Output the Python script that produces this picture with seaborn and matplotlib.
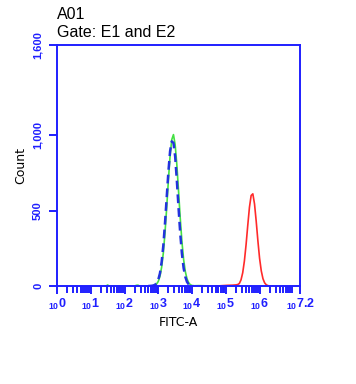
import seaborn as sns
import matplotlib.pyplot as plt
import numpy as np
import pandas as pd
from matplotlib.ticker import FixedLocator, LogLocator, NullFormatter

sns.set_style("ticks")
plt.rcParams['font.family'] = ['Liberation Sans', 'DejaVu Sans']
plt.rcParams['text.color'] = 'black'
plt.rcParams['axes.labelcolor'] = 'black'

# histogram traces, x = decade (log10 of FITC-A), y = count
green_dec = [1.40, 1.45, 1.50, 1.55, 1.60, 2.30, 2.35, 2.40, 2.45, 2.70, 2.75, 2.80, 2.85,
             2.90, 2.95, 3.00, 3.05, 3.10, 3.15, 3.20, 3.25, 3.30, 3.35, 3.40, 3.45, 3.50,
             3.55, 3.60, 3.65, 3.70, 3.75, 3.80, 3.85, 3.90, 3.95, 4.00, 4.05, 4.20, 4.35, 4.50]
green_cnt = [0, 0, 7, 0, 0, 0, 5, 6, 0, 0, 1, 1, 2,
             5, 14, 31, 65, 126, 220, 357, 522, 703, 865, 972, 1005, 937,
             805, 631, 452, 296, 177, 97, 49, 22, 9, 4, 2, 3, 2, 0]

blue_dec = [2.70, 2.75, 2.80, 2.85, 2.90, 2.95, 3.00, 3.05, 3.10, 3.15, 3.20, 3.25, 3.30,
            3.35, 3.40, 3.45, 3.50, 3.55, 3.60, 3.65, 3.70, 3.75, 3.80, 3.85, 3.90, 3.95,
            4.00, 4.05]
blue_cnt = [0, 1, 2, 4, 8, 19, 42, 85, 160, 270, 420, 590, 760,
            895, 960, 950, 860, 700, 520, 350, 215, 120, 62, 28, 12, 5,
            2, 0]

red_dec = [4.70, 4.90, 5.05, 5.20, 5.30, 5.35, 5.40, 5.45, 5.50, 5.55, 5.60, 5.65, 5.70,
           5.75, 5.80, 5.85, 5.90, 5.95, 6.00, 6.05, 6.10, 6.15, 6.20, 6.25, 6.30, 6.40]
red_cnt = [0, 3, 5, 6, 8, 10, 17, 41, 88, 166, 275, 403, 523,
           601, 612, 545, 430, 300, 184, 101, 49, 21, 8, 3, 0, 0]

y_ticks = [0, 500, 1000, 1600]
y_labels = ["0", "500", "1,000", "1,600"]
x_dec_ticks = [0, 1, 2, 3, 4, 5, 6, 7.2]
x_dec_labels = ["0", "1", "2", "3", "4", "5", "6", "7.2"]

AX_BLUE = "#1f1fff"

fig = plt.figure(figsize=(3.56, 3.84), dpi=100)
ax = fig.add_axes([0.160, 0.255, 0.683, 0.628])

green = pd.DataFrame({"x": 10 ** np.array(green_dec), "y": green_cnt})
blue = pd.DataFrame({"x": 10 ** np.array(blue_dec), "y": blue_cnt})
red = pd.DataFrame({"x": 10 ** np.array(red_dec), "y": red_cnt})

sns.lineplot(data=green, x="x", y="y", color="#44e044", linewidth=1.2, ax=ax)
sns.lineplot(data=blue, x="x", y="y", color="#2233dd", linewidth=1.8,
             linestyle=(0, (3.5, 2)), ax=ax)
sns.lineplot(data=red, x="x", y="y", color="#ff2a2a", linewidth=1.2, ax=ax)

ax.set_xscale("log")
ax.set_xlim(1, 10 ** 7.2)
ax.set_ylim(0, 1600)

ax.xaxis.set_major_locator(FixedLocator([10 ** d for d in x_dec_ticks]))
ax.set_xticklabels([r"$_{\mathregular{10}}$" + s for s in x_dec_labels],
                   fontsize=9, fontweight="bold", color=AX_BLUE)
ax.xaxis.set_minor_locator(LogLocator(base=10, subs=np.arange(2, 10), numticks=20))
ax.xaxis.set_minor_formatter(NullFormatter())

ax.set_yticks(y_ticks)
ax.set_yticklabels(y_labels, rotation=90, va="center", fontsize=8, fontweight="bold",
                   color=AX_BLUE)

for s in ax.spines.values():
    s.set_color(AX_BLUE)
    s.set_linewidth(1.4)
ax.tick_params(axis="both", which="major", color=AX_BLUE, length=6, width=1.4, pad=2)
ax.tick_params(axis="y", which="major", pad=4)
ax.tick_params(axis="x", which="minor", color=AX_BLUE, length=5, width=1.4)

ax.set_xlabel("FITC-A", fontsize=9, family="DejaVu Sans", labelpad=3)
ax.set_ylabel("Count", fontsize=9, family="DejaVu Sans", labelpad=4)

fig.text(0.160, 0.9505, "A01", fontsize=11.5, ha="left", va="baseline")
fig.text(0.160, 0.9036, "Gate: E1 and E2", fontsize=11.5, ha="left", va="baseline")

plt.savefig("out.png", dpi=100)
